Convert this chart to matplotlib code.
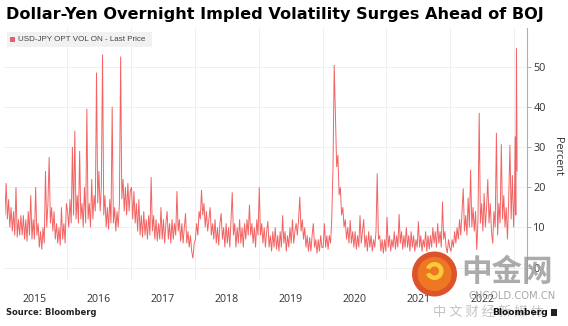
import numpy as np
import matplotlib
matplotlib.use("Agg")
import matplotlib.pyplot as plt
from matplotlib.patches import Circle, Rectangle, Wedge

title = "Dollar-Yen Overnight Impled Volatility Surges Ahead of BOJ"
series_name = "USD-JPY OPT VOL ON - Last Price"
source = "Source: Bloomberg"

# weekly readings of the USD-JPY overnight implied vol (percent), one list per year
vol_2015 = [20, 13, 21, 12, 17, 10, 15, 9, 14, 8, 20, 7.5, 12, 8, 13, 8, 13, 7, 12, 6.5,
            14, 8, 18, 7, 12, 7, 20, 8, 11, 5, 9, 4.5, 10, 6, 24, 10, 16, 27.5, 11, 15,
            9, 14, 7, 11, 6, 10, 5.5, 15, 7, 11, 6, 16]
vol_2016 = [14, 10, 17, 11, 30, 13, 34, 12, 18, 11, 29, 12, 16, 10, 20, 11, 39.5, 12, 16, 10,
            22, 12, 18, 14, 48.5, 16, 24, 14, 20, 53, 13, 18, 10, 15, 9.5, 17, 11, 40, 11, 15,
            9, 14, 10, 16, 52.5, 17, 22, 14, 20, 13, 21, 14, 19]
vol_2017 = [20, 12, 19, 11, 16, 9, 17, 8, 13, 7.5, 14, 8, 12, 7, 13, 8, 22.5, 9, 13, 7,
            12, 6.5, 11, 7, 15, 7, 12, 6, 11, 14, 7, 11, 6, 12, 7, 11, 8, 19, 9, 12,
            6.5, 11, 6, 10, 13.5, 6, 9, 5, 8, 4, 2.3, 6]
vol_2018 = [7, 11, 8, 14, 12, 19.3, 13, 16, 10, 14, 9, 12, 15, 8, 11, 7, 12, 6, 10, 5.5,
            11, 13.5, 7, 10, 5, 11, 6, 10, 5, 12, 18.7, 8, 11, 5, 10, 6, 12, 6, 10, 5,
            11, 7, 12, 8, 15.6, 8, 11, 6, 10, 5, 12, 8]
vol_2019 = [20, 8, 11, 6, 10, 5, 9, 11.5, 5, 8, 4, 9, 5, 10, 4.5, 8, 4, 9, 5, 13,
            6, 9, 4, 8, 5, 10, 6, 12, 6, 9, 11, 8, 12, 17.6, 9, 12, 7, 10, 5, 8,
            4, 7.5, 4, 8, 11, 5, 7, 3.5, 7, 4, 8, 5]
vol_2020 = [5, 11, 5, 8, 4.5, 8, 6, 12, 25, 50.4, 38, 25, 28, 18, 20, 13, 15, 10, 12, 7,
            10, 6, 11.8, 6, 9, 5, 9, 4.5, 8, 5, 13, 6, 9, 12, 5, 8, 4, 9, 5, 8,
            4, 7, 5, 9, 23.4, 7, 8, 4, 7, 3.5, 7, 4]
vol_2021 = [12.6, 5, 8, 4, 7, 5, 9, 4.5, 8, 5, 13.3, 6, 9, 4.5, 8, 5, 10, 5, 8, 4,
            9, 5, 8, 4, 7, 5, 11.5, 5, 8, 4, 7, 5, 9, 4, 8, 4.5, 8, 5, 10, 6,
            9, 5, 11, 6, 9, 5, 16.4, 7, 9, 5, 3.6, 7, 5]
vol_2022 = [4, 7, 5, 9, 6, 10, 7, 12, 8, 14, 19.7, 9, 13, 8, 17.4, 10, 24.3, 10, 15, 9,
            14, 4.4, 12, 38.5, 11, 16, 9, 18.5, 10, 15, 22, 11, 16, 9, 6, 14, 10, 33.5, 8, 16,
            11, 30.7, 12, 18, 10, 15, 7, 17, 30.5, 12, 23, 10]
vol_2023 = [18, 32.6, 13, 54.6, 24]

years = [2015, 2016, 2017, 2018, 2019, 2020, 2021, 2022, 2023]
year_values = [vol_2015, vol_2016, vol_2017, vol_2018, vol_2019, vol_2020, vol_2021, vol_2022, vol_2023]
year_covered = [1, 1, 1, 1, 1, 1, 1, 1, 0.05]   # fraction of the year with data
year_labels = ["2015", "2016", "2017", "2018", "2019", "2020", "2021", "2022"]
y_ticks = [0, 10, 20, 30, 40, 50]

t_all, v_all = [], []
for yr, vals, cov in zip(years, year_values, year_covered):
    n = len(vals)
    t_all.extend(yr + (np.arange(n) + 0.5) / n * cov)
    v_all.extend(vals)

W, H = 568, 326
fig = plt.figure(figsize=(W / 100, H / 100), dpi=100)
fig.patch.set_facecolor("white")
ax = fig.add_axes([5 / W, 1 - 280 / H, (527 - 5) / W, (280 - 28) / H])

ax.plot(t_all, v_all, color="#f26464", lw=0.7, solid_joinstyle="miter")
ax.set_xlim(2015.03, 2023.2)
ax.set_ylim(-3.1, 59.6)

ax.set_xticks(range(2016, 2024))
ax.set_xticklabels([])
ax.set_xticks([int(s) + 0.5 for s in year_labels], minor=True)
ax.set_xticklabels(year_labels, minor=True)
ax.tick_params(axis="x", which="both", length=0)
ax.tick_params(axis="x", which="minor", pad=10, labelsize=7.6, labelcolor="#333333")
for lab in ax.get_xticklabels(minor=True):
    lab.set_family("Open Sans")

ax.yaxis.tick_right()
ax.set_yticks(y_ticks)
ax.set_yticklabels([str(v) for v in y_ticks])
ax.tick_params(axis="y", length=3, width=0.6, color="#aaaaaa", pad=1.5,
               labelsize=7.8, labelcolor="#333333")
for lab in ax.get_yticklabels():
    lab.set_family("Open Sans")

ax.grid(True, which="major", color="#ececec", lw=0.6)
ax.set_axisbelow(True)
for s in ["top", "left", "bottom"]:
    ax.spines[s].set_visible(False)
ax.spines["right"].set_color("#c4a6a6")
ax.spines["right"].set_linewidth(0.8)

# overlay in pixel coordinates for titles, legend and watermark
ov = fig.add_axes([0, 0, 1, 1])
ov.set_xlim(0, W)
ov.set_ylim(H, 0)
ov.axis("off")

ov.text(6, 14, title, fontsize=11.6, fontweight="bold", color="black",
        va="center", ha="left", family="DejaVu Sans")

ov.add_patch(Rectangle((6.7, 31.7), 145, 15, facecolor="#f1f1f1", edgecolor="none"))
ov.add_patch(Rectangle((10, 36.5), 5, 5, facecolor="#e0626e", edgecolor="none"))
ov.text(18, 39.2, series_name, fontsize=5.8, color="#444444", va="center", ha="left",
        family="Liberation Sans")

ov.text(557, 156, "Percent", rotation=270, fontsize=7.8, color="#333333",
        va="center", ha="center", family="Open Sans")

ov.text(6, 312.5, source, fontsize=6, fontweight="bold", color="#222222",
        va="center", ha="left", family="DejaVu Sans")

# watermark
ov.add_patch(Circle((434.5, 274), 22.5, facecolor="#dc4a1e", edgecolor="none", alpha=0.95))
ov.add_patch(Circle((434.5, 274), 17, facecolor="#ee7a22", edgecolor="none", alpha=0.95))
ov.add_patch(Wedge((434.5, 271), 9, 200, 520, width=4.5, facecolor="#f8c93a", edgecolor="none"))
ov.text(507, 272, "中金网", fontsize=22, fontweight="bold", color="#9c9c9c", alpha=0.85,
        va="center", ha="center", family="Noto Sans CJK SC")
ov.text(512, 296, "CNGOLD.COM.CN", fontsize=7.2, color="#a8a8a8", va="center", ha="center",
        family="DejaVu Sans")
ov.text(488, 312, "中 文 财 经 新 媒 体", fontsize=9.5, color="#c4c4c4", va="center", ha="center",
        family="Noto Sans CJK SC")

ov.text(548, 312.5, "Bloomberg", fontsize=6.6, fontweight="bold", color="#111111",
        va="center", ha="right", family="DejaVu Sans")
ov.add_patch(Rectangle((551, 309), 6, 7, facecolor="#222222", edgecolor="none"))

fig.savefig("out.png", dpi=100, facecolor="white")
